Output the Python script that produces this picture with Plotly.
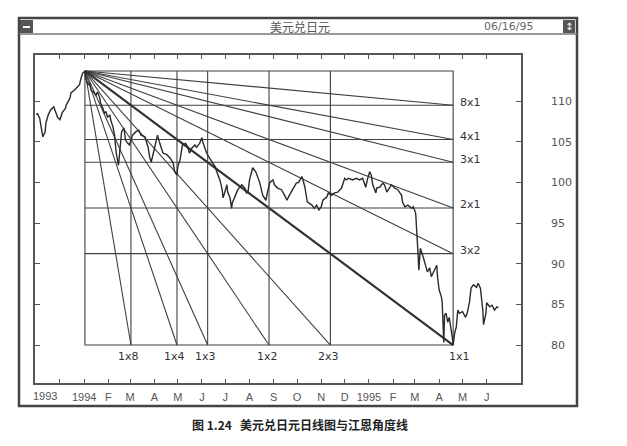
import pandas as pd
import plotly.graph_objects as go

# USD/JPY daily line (approximate)
dates = [
    "1993-11-01", "1993-11-02", "1993-11-05", "1993-11-07", "1993-11-09", "1993-11-12", "1993-11-13",
    "1993-11-16", "1993-11-19", "1993-11-23", "1993-11-26", "1993-11-28", "1993-12-01", "1993-12-04",
    "1993-12-08", "1993-12-09", "1993-12-14", "1993-12-15", "1993-12-19", "1993-12-22", "1993-12-26",
    "1993-12-28", "1993-12-30", "1994-01-02", "1994-01-03", "1994-01-06", "1994-01-08", "1994-01-10",
    "1994-01-13", "1994-01-16", "1994-01-18", "1994-01-21", "1994-01-22", "1994-01-25", "1994-01-27",
    "1994-01-29", "1994-01-31", "1994-02-03", "1994-02-04", "1994-02-07", "1994-02-09", "1994-02-11",
    "1994-02-14", "1994-02-15", "1994-02-16", "1994-02-18", "1994-02-21", "1994-02-23", "1994-02-26",
    "1994-02-28", "1994-03-04", "1994-03-08", "1994-03-12", "1994-03-15", "1994-03-20", "1994-03-24",
    "1994-03-26", "1994-03-28", "1994-03-31", "1994-04-04", "1994-04-05", "1994-04-08", "1994-04-12",
    "1994-04-17", "1994-04-21", "1994-04-25", "1994-04-27", "1994-04-30", "1994-05-01", "1994-05-04",
    "1994-05-06", "1994-05-07", "1994-05-11", "1994-05-14", "1994-05-16", "1994-05-19", "1994-05-23",
    "1994-05-25", "1994-05-29", "1994-06-01", "1994-06-02", "1994-06-05", "1994-06-07", "1994-06-10",
    "1994-06-14", "1994-06-18", "1994-06-20", "1994-06-22", "1994-06-24", "1994-06-27", "1994-06-28",
    "1994-06-30", "1994-07-03", "1994-07-04", "1994-07-07", "1994-07-09", "1994-07-10", "1994-07-14",
    "1994-07-17", "1994-07-22", "1994-07-26", "1994-07-28", "1994-07-30", "1994-08-01", "1994-08-04",
    "1994-08-05", "1994-08-09", "1994-08-11", "1994-08-14", "1994-08-18", "1994-08-22", "1994-08-24",
    "1994-08-27", "1994-08-31", "1994-09-02", "1994-09-06", "1994-09-11", "1994-09-15", "1994-09-18",
    "1994-09-21", "1994-09-25", "1994-09-30", "1994-10-03", "1994-10-07", "1994-10-08", "1994-10-11",
    "1994-10-13", "1994-10-14", "1994-10-20", "1994-10-23", "1994-10-26", "1994-10-29", "1994-11-01",
    "1994-11-03", "1994-11-08", "1994-11-10", "1994-11-14", "1994-11-18", "1994-11-22", "1994-11-27",
    "1994-12-01", "1994-12-03", "1994-12-06", "1994-12-11", "1994-12-16", "1994-12-20", "1994-12-24",
    "1994-12-28", "1994-12-30", "1995-01-02", "1995-01-04", "1995-01-06", "1995-01-10", "1995-01-11",
    "1995-01-15", "1995-01-19", "1995-01-21", "1995-01-24", "1995-01-26", "1995-01-30", "1995-02-03",
    "1995-02-07", "1995-02-12", "1995-02-13", "1995-02-16", "1995-02-20", "1995-02-25", "1995-02-27",
    "1995-03-02", "1995-03-03", "1995-03-05", "1995-03-06", "1995-03-07", "1995-03-08", "1995-03-12",
    "1995-03-15", "1995-03-17", "1995-03-20", "1995-03-22", "1995-03-26", "1995-03-29", "1995-03-30",
    "1995-04-01", "1995-04-04", "1995-04-05", "1995-04-07", "1995-04-08", "1995-04-10", "1995-04-12",
    "1995-04-14", "1995-04-17", "1995-04-18", "1995-04-19", "1995-04-21", "1995-04-23", "1995-04-25",
    "1995-04-27", "1995-05-01", "1995-05-05", "1995-05-07", "1995-05-10", "1995-05-12", "1995-05-15",
    "1995-05-19", "1995-05-21", "1995-05-24", "1995-05-27", "1995-05-28", "1995-05-31", "1995-06-01",
    "1995-06-05", "1995-06-08", "1995-06-11", "1995-06-14", "1995-06-16",
]
usdjpy = [
    108.3, 108.5, 107.9, 106.4, 105.6, 106.2, 107.3,
    108.3, 108.9, 109.3, 108.6, 108.0, 107.7, 108.6,
    109.1, 109.5, 110.4, 111.0, 111.3, 111.6, 112.0,
    112.8, 113.4, 113.7, 112.8, 112.0, 112.2, 111.3,
    111.1, 110.7, 111.1, 110.4, 109.8, 109.1, 108.5,
    108.7, 108.0, 108.3, 107.7, 106.8, 105.8, 103.7,
    102.1, 103.1, 104.3, 106.2, 106.7, 105.2, 104.8,
    104.6, 105.8, 106.2, 106.4, 105.8, 105.6, 104.3,
    103.1, 102.5, 103.7, 105.2, 105.8, 104.8, 103.6,
    103.4, 103.0, 102.4, 101.3, 100.9, 101.9, 102.8,
    104.0, 104.6, 104.8, 104.3, 103.6, 104.2, 104.6,
    104.3, 104.8, 105.5, 105.0, 104.0, 103.6, 103.1,
    102.5, 101.9, 101.3, 100.9, 100.3, 99.1, 98.1,
    98.7, 99.7, 98.8, 98.1, 96.8, 97.5, 98.4,
    99.1, 99.7, 99.3, 98.7, 98.8, 100.3, 101.2,
    101.8, 101.3, 100.7, 100.0, 98.4, 97.8, 98.8,
    100.0, 100.3, 99.7, 99.3, 99.1, 98.4, 97.8,
    98.4, 99.1, 99.9, 100.0, 100.7, 100.5, 99.4,
    98.2, 97.6, 97.2, 96.8, 97.2, 96.6, 97.0,
    97.8, 98.2, 98.7, 98.4, 98.7, 98.8, 99.3,
    100.5, 100.3, 100.5, 100.3, 100.5, 100.3, 100.5,
    99.4, 100.3, 101.3, 100.9, 99.7, 98.7, 99.3,
    99.4, 99.9, 99.7, 98.8, 99.1, 99.7, 99.3,
    99.1, 98.4, 97.6, 97.0, 97.2, 96.8, 97.0,
    96.2, 93.8, 91.3, 89.2, 91.4, 91.9, 90.7,
    89.6, 89.0, 89.5, 88.4, 89.2, 89.8, 88.4,
    86.8, 85.9, 85.2, 80.3, 83.7, 83.9, 82.8,
    83.4, 81.8, 80.9, 80.0, 81.5, 82.2, 84.3,
    83.9, 84.1, 83.4, 83.9, 85.3, 87.0, 87.4,
    87.1, 87.6, 87.0, 84.3, 82.5, 83.9, 85.2,
    84.7, 84.9, 84.3, 84.7, 84.6,
]

# Gann fan: from the Jan 1994 top to the Apr 1995 low
gann_start = ("1994-01-02", 113.7)
gann_end = ("1995-04-19", 80.0)
gann_names = ["8x1", "4x1", "3x1", "2x1", "3x2", "1x1", "2x3", "1x2", "1x3", "1x4", "1x8"]

month_ticks = [
    "1993-12-01", "1994-01-01", "1994-02-01", "1994-03-01", "1994-04-01", "1994-05-01",
    "1994-06-01", "1994-07-01", "1994-08-01", "1994-09-01", "1994-10-01", "1994-11-01",
    "1994-12-01", "1995-01-01", "1995-02-01", "1995-03-01", "1995-04-01", "1995-05-01",
    "1995-06-01",
]
month_labels = ["", "1994", "F", "M", "A", "M", "J", "J", "A", "S", "O", "N",
                "D", "1995", "F", "M", "A", "M", "J"]
price_ticks = [80, 85, 90, 95, 100, 105, 110]

INK = "#2a2a2a"
AXIS = "#555555"
LBL = dict(family="Liberation Sans", size=11, color="#555555")

#----------------------------------------------------------
# Gann geometry

t0 = pd.Timestamp(gann_start[0])
t1 = pd.Timestamp(gann_end[0])
p0, p1 = gann_start[1], gann_end[1]
span_t = t1 - t0
span_p = p0 - p1

def gann_end_point(name):
    t, p = [int(v) for v in name.split("x")]
    r = p / t
    if r <= 1:
        return t1, p0 - span_p * r, "right"
    return t0 + span_t * (t / p), p1, "bottom"

fan_x, fan_y = [], []
grid_x, grid_y = [], []
annos = []

# box outline
grid_x += [t0, t1, t1, t0, t0, None]
grid_y += [p0, p0, p1, p1, p0, None]

for name in gann_names:
    ex, ey, side = gann_end_point(name)
    if name != "1x1":
        fan_x += [t0, ex, None]
        fan_y += [p0, ey, None]
        if side == "right":
            grid_x += [t0, t1, None]
            grid_y += [ey, ey, None]
        else:
            grid_x += [ex, ex, None]
            grid_y += [p0, p1, None]
    if side == "right" and name != "1x1":
        annos.append(dict(x=ex, y=ey, text=name, xanchor="left", yanchor="middle",
                          xshift=5, yshift=3))
    else:
        annos.append(dict(x=ex, y=ey, text=name, xanchor="center", yanchor="top",
                          xshift=6 if name == "1x1" else -2, yshift=-3))

for a in annos:
    a.update(xref="x", yref="y", showarrow=False,
             font=dict(family="DejaVu Sans", size=11, color="#333333"))

#----------------------------------------------------------
# Figure

fig = go.Figure()

fig.add_trace(go.Scatter(x=grid_x, y=grid_y, mode="lines",
                         line=dict(color="#404040", width=1.1), hoverinfo="skip"))
fig.add_trace(go.Scatter(x=fan_x, y=fan_y, mode="lines",
                         line=dict(color="#404040", width=1.1), hoverinfo="skip"))
fig.add_trace(go.Scatter(x=[t0, t1], y=[p0, p1], mode="lines",
                         line=dict(color="#333333", width=2.2), hoverinfo="skip"))
fig.add_trace(go.Scatter(x=pd.to_datetime(dates), y=usdjpy, mode="lines",
                         line=dict(color=INK, width=1.4), name="USD/JPY"))

# window frame (pixel positions mapped to paper)
def px(x):
    return (x - 35) / 486

def py(y):
    return (383 - y) / 328

shapes = [
    dict(type="rect", xref="paper", yref="paper", x0=px(19), x1=px(577), y0=py(406), y1=py(18),
         line=dict(color="#444444", width=2.5)),
    dict(type="line", xref="paper", yref="paper", x0=px(19), x1=px(577), y0=py(34), y1=py(34),
         line=dict(color="#777777", width=1.5)),
    dict(type="rect", xref="paper", yref="paper", x0=px(20), x1=px(33), y0=py(33), y1=py(20),
         fillcolor="#555555", line=dict(width=0)),
    dict(type="rect", xref="paper", yref="paper", x0=px(23), x1=px(30), y0=py(28), y1=py(26),
         fillcolor="white", line=dict(width=0)),
    dict(type="rect", xref="paper", yref="paper", x0=px(563), x1=px(575), y0=py(33), y1=py(20),
         fillcolor="#555555", line=dict(width=0)),
]

annos += [
    dict(xref="paper", yref="paper", x=px(300), y=py(27), text="美元兑日元",
         font=dict(family="Noto Sans CJK SC", size=12, color="#555555")),
    dict(xref="paper", yref="paper", x=px(508), y=py(27), text="06/16/95",
         font=dict(family="DejaVu Sans", size=11, color="#666666")),
    dict(xref="paper", yref="paper", x=px(569), y=py(26.5), text="↕",
         font=dict(family="DejaVu Sans", size=10, color="white")),
    dict(xref="x", yref="paper", x="1993-11-12", y=py(396), text="1993", font=LBL),
    dict(xref="paper", yref="paper", x=px(300), y=py(424),
         text="<b>图 1.24   美元兑日元日线图与江恩角度线</b>",
         font=dict(family="Noto Sans CJK SC", size=12, color="#222222")),
]
for a in annos[-5:]:
    a.update(showarrow=False, xanchor="center", yanchor="middle")

fig.update_layout(
    width=627, height=446,
    margin=dict(l=35, r=106, t=55, b=63),
    paper_bgcolor="white", plot_bgcolor="white",
    showlegend=False,
    shapes=shapes,
    annotations=annos,
    xaxis=dict(
        type="date", range=["1993-10-30", "1995-07-15"],
        tickvals=month_ticks, ticktext=month_labels,
        ticks="inside", ticklen=4, tickcolor=AXIS,
        showline=True, linecolor=AXIS, linewidth=1.5, mirror="ticks",
        showgrid=False, zeroline=False, tickfont=LBL, ticklabelstandoff=3,
    ),
    yaxis=dict(
        range=[75.33, 115.66], side="right",
        tickvals=price_ticks, ticks="inside", ticklen=5, tickcolor=AXIS,
        showline=True, linecolor=AXIS, linewidth=1.5, mirror="ticks",
        showgrid=False, zeroline=False, ticklabelstandoff=26,
        tickfont=dict(family="DejaVu Sans", size=11, color="#555555"),
    ),
)

fig.write_html("out.html", config={"displayModeBar": False},
               post_script="document.body.style.margin='0';")
